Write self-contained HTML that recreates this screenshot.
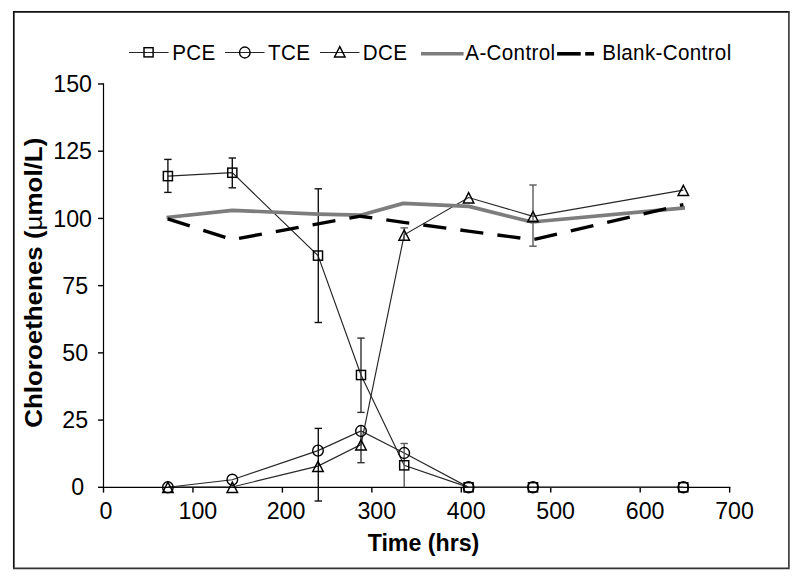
<!DOCTYPE html>
<html><head><meta charset="utf-8"><style>
html,body{margin:0;padding:0;background:#fff;}
svg{display:block;}
text{font-family:"Liberation Sans",sans-serif;fill:#000;}
.ax{font-size:23.2px;}
.lg{font-size:20.6px;letter-spacing:0.35px;}
.tt{font-size:22.5px;font-weight:bold;}
.mu{font-weight:normal;}
</style></head><body>
<svg width="800" height="582" viewBox="0 0 800 582">
<rect width="800" height="582" fill="#fff"/>
<path d="M13.8,569 V11.8 H789.4" fill="none" stroke="#111" stroke-width="1.7"/>
<path d="M13,568.4 H788.9 V11" fill="none" stroke="#333" stroke-width="1.6"/>
<line x1="103.5" y1="83.3" x2="103.5" y2="488.0" stroke="#000" stroke-width="1.2"/>
<line x1="102.8" y1="487.3" x2="730.4" y2="487.3" stroke="#000" stroke-width="1.2"/>
<line x1="98" y1="487.30" x2="103.5" y2="487.30" stroke="#000" stroke-width="1.4"/>
<line x1="98" y1="420.08" x2="103.5" y2="420.08" stroke="#000" stroke-width="1.4"/>
<line x1="98" y1="352.86" x2="103.5" y2="352.86" stroke="#000" stroke-width="1.4"/>
<line x1="98" y1="285.64" x2="103.5" y2="285.64" stroke="#000" stroke-width="1.4"/>
<line x1="98" y1="218.42" x2="103.5" y2="218.42" stroke="#000" stroke-width="1.4"/>
<line x1="98" y1="151.20" x2="103.5" y2="151.20" stroke="#000" stroke-width="1.4"/>
<line x1="98" y1="83.98" x2="103.5" y2="83.98" stroke="#000" stroke-width="1.4"/>
<line x1="103.50" y1="487.3" x2="103.50" y2="492.6" stroke="#000" stroke-width="1.4"/>
<line x1="192.95" y1="487.3" x2="192.95" y2="492.6" stroke="#000" stroke-width="1.4"/>
<line x1="282.40" y1="487.3" x2="282.40" y2="492.6" stroke="#000" stroke-width="1.4"/>
<line x1="371.85" y1="487.3" x2="371.85" y2="492.6" stroke="#000" stroke-width="1.4"/>
<line x1="461.30" y1="487.3" x2="461.30" y2="492.6" stroke="#000" stroke-width="1.4"/>
<line x1="550.75" y1="487.3" x2="550.75" y2="492.6" stroke="#000" stroke-width="1.4"/>
<line x1="640.20" y1="487.3" x2="640.20" y2="492.6" stroke="#000" stroke-width="1.4"/>
<line x1="729.65" y1="487.3" x2="729.65" y2="492.6" stroke="#000" stroke-width="1.4"/>
<text transform="translate(84.20,495.40) scale(1,1.02)" text-anchor="end" class="ax">0</text>
<text transform="translate(88.10,428.18) scale(1,1.02)" text-anchor="end" class="ax">25</text>
<text transform="translate(88.10,360.96) scale(1,1.02)" text-anchor="end" class="ax">50</text>
<text transform="translate(88.10,293.74) scale(1,1.02)" text-anchor="end" class="ax">75</text>
<text transform="translate(92.00,226.52) scale(1,1.02)" text-anchor="end" class="ax">100</text>
<text transform="translate(92.00,159.30) scale(1,1.02)" text-anchor="end" class="ax">125</text>
<text transform="translate(92.00,92.08) scale(1,1.02)" text-anchor="end" class="ax">150</text>
<text transform="translate(106.00,518.5) scale(1,1.02)" text-anchor="middle" class="ax">0</text>
<text transform="translate(197.85,518.5) scale(1,1.02)" text-anchor="middle" class="ax">100</text>
<text transform="translate(286.00,518.5) scale(1,1.02)" text-anchor="middle" class="ax">200</text>
<text transform="translate(376.75,518.5) scale(1,1.02)" text-anchor="middle" class="ax">300</text>
<text transform="translate(466.20,518.5) scale(1,1.02)" text-anchor="middle" class="ax">400</text>
<text transform="translate(555.65,518.5) scale(1,1.02)" text-anchor="middle" class="ax">500</text>
<text transform="translate(645.10,518.5) scale(1,1.02)" text-anchor="middle" class="ax">600</text>
<text transform="translate(734.55,518.5) scale(1,1.02)" text-anchor="middle" class="ax">700</text>
<text transform="translate(423.5,551.3) scale(1,1.046)" text-anchor="middle" class="tt" style="font-size:23.2px">Time (hrs)</text>
<text transform="translate(42.2,282.75) rotate(-90) scale(1.128,1)" text-anchor="middle" class="tt" style="font-size:23px">Chloroethenes (<tspan class="mu">µ</tspan>mol/L)</text>
<polyline points="167.9,176.1 232.3,172.7 318.0,255.6 361.0,375.0 404.2,465.3 468.6,487.3 533.0,487.3 683.3,487.3" fill="none" stroke="#262626" stroke-width="1.15"/>
<polyline points="167.9,487.3 232.3,479.7 318.0,450.6 361.0,431.0 404.2,453.0 468.6,487.3 533.0,487.3 683.3,487.3" fill="none" stroke="#262626" stroke-width="1.15"/>
<polyline points="167.9,487.0 232.3,487.0 318.0,466.1 361.0,444.6 404.2,234.8 468.6,197.5 533.0,216.3 683.3,190.1" fill="none" stroke="#262626" stroke-width="1.15"/>
<line x1="167.9" y1="159.4" x2="167.9" y2="192.4" stroke="#111" stroke-width="1.4"/>
<line x1="164.20" y1="159.4" x2="171.60" y2="159.4" stroke="#111" stroke-width="1.4"/>
<line x1="164.20" y1="192.4" x2="171.60" y2="192.4" stroke="#111" stroke-width="1.4"/>
<line x1="232.3" y1="158" x2="232.3" y2="187.8" stroke="#111" stroke-width="1.4"/>
<line x1="228.60" y1="158" x2="236.00" y2="158" stroke="#111" stroke-width="1.4"/>
<line x1="228.60" y1="187.8" x2="236.00" y2="187.8" stroke="#111" stroke-width="1.4"/>
<line x1="318.3" y1="188.8" x2="318.3" y2="322.5" stroke="#111" stroke-width="1.4"/>
<line x1="314.60" y1="188.8" x2="322.00" y2="188.8" stroke="#111" stroke-width="1.4"/>
<line x1="314.60" y1="322.5" x2="322.00" y2="322.5" stroke="#111" stroke-width="1.4"/>
<line x1="361" y1="338.1" x2="361" y2="412.4" stroke="#333" stroke-width="1.4"/>
<line x1="357.30" y1="338.1" x2="364.70" y2="338.1" stroke="#333" stroke-width="1.4"/>
<line x1="357.30" y1="412.4" x2="364.70" y2="412.4" stroke="#333" stroke-width="1.4"/>
<line x1="318.3" y1="428.4" x2="318.3" y2="501" stroke="#111" stroke-width="1.4"/>
<line x1="314.60" y1="428.4" x2="322.00" y2="428.4" stroke="#111" stroke-width="1.4"/>
<line x1="314.60" y1="501" x2="322.00" y2="501" stroke="#111" stroke-width="1.4"/>
<line x1="361" y1="425.8" x2="361" y2="462.7" stroke="#333" stroke-width="1.4"/>
<line x1="357.30" y1="462.7" x2="364.70" y2="462.7" stroke="#333" stroke-width="1.4"/>
<line x1="404.2" y1="443.5" x2="404.2" y2="487.3" stroke="#5a5a5a" stroke-width="1.4"/>
<line x1="400.50" y1="443.5" x2="407.90" y2="443.5" stroke="#5a5a5a" stroke-width="1.4"/>
<line x1="404.2" y1="227.9" x2="404.2" y2="240" stroke="#5a5a5a" stroke-width="1.4"/>
<line x1="400.50" y1="227.9" x2="407.90" y2="227.9" stroke="#5a5a5a" stroke-width="1.4"/>
<line x1="533" y1="185" x2="533" y2="246.2" stroke="#5a5a5a" stroke-width="1.4"/>
<line x1="529.30" y1="185" x2="536.70" y2="185" stroke="#5a5a5a" stroke-width="1.4"/>
<line x1="529.30" y1="246.2" x2="536.70" y2="246.2" stroke="#5a5a5a" stroke-width="1.4"/>
<polyline points="166.5,217.5 232.3,210.3 318.0,214.1 360.5,215.2 403.3,203.4 469.0,206.4 532.0,222.0 685.0,207.8" fill="none" stroke="#7d7d7d" stroke-width="3.7" stroke-linejoin="round"/>
<polyline points="167.0,218.7 232.3,239.6 318.0,223.8 360.5,216.2 403.5,222.4 468.3,231.1 533.0,239.7 683.4,204.6" fill="none" stroke="#000" stroke-width="3.4" stroke-dasharray="23.2 14.17" stroke-dashoffset="-0.7"/>
<path d="M167.90,482.20 L173.15,492.40 L162.65,492.40 Z" fill="none" stroke="#000" stroke-width="1.45" stroke-linejoin="miter"/>
<path d="M232.30,482.20 L237.55,492.40 L227.05,492.40 Z" fill="none" stroke="#000" stroke-width="1.45" stroke-linejoin="miter"/>
<path d="M318.00,461.30 L323.25,471.50 L312.75,471.50 Z" fill="none" stroke="#000" stroke-width="1.45" stroke-linejoin="miter"/>
<path d="M361.00,439.80 L366.25,450.00 L355.75,450.00 Z" fill="none" stroke="#000" stroke-width="1.45" stroke-linejoin="miter"/>
<path d="M404.20,230.00 L409.45,240.20 L398.95,240.20 Z" fill="none" stroke="#000" stroke-width="1.45" stroke-linejoin="miter"/>
<path d="M468.60,192.70 L473.85,202.90 L463.35,202.90 Z" fill="none" stroke="#000" stroke-width="1.45" stroke-linejoin="miter"/>
<path d="M533.00,211.50 L538.25,221.70 L527.75,221.70 Z" fill="none" stroke="#000" stroke-width="1.45" stroke-linejoin="miter"/>
<path d="M683.30,185.30 L688.55,195.50 L678.05,195.50 Z" fill="none" stroke="#000" stroke-width="1.45" stroke-linejoin="miter"/>
<ellipse cx="167.90" cy="487.30" rx="5.3" ry="5.50" fill="none" stroke="#000" stroke-width="1.4"/>
<ellipse cx="232.30" cy="479.70" rx="5.3" ry="5.50" fill="none" stroke="#000" stroke-width="1.4"/>
<ellipse cx="318.00" cy="450.60" rx="5.3" ry="5.50" fill="none" stroke="#000" stroke-width="1.4"/>
<ellipse cx="361.00" cy="431.00" rx="5.3" ry="5.50" fill="none" stroke="#000" stroke-width="1.4"/>
<ellipse cx="404.20" cy="453.00" rx="5.3" ry="5.50" fill="none" stroke="#000" stroke-width="1.4"/>
<ellipse cx="468.60" cy="487.30" rx="5.3" ry="5.50" fill="none" stroke="#000" stroke-width="1.4"/>
<ellipse cx="533.00" cy="487.30" rx="5.3" ry="5.50" fill="none" stroke="#000" stroke-width="1.4"/>
<ellipse cx="683.30" cy="487.30" rx="5.3" ry="5.50" fill="none" stroke="#000" stroke-width="1.4"/>
<rect x="163.35" y="171.50" width="9.1" height="9.2" fill="none" stroke="#000" stroke-width="1.45"/>
<rect x="227.75" y="168.10" width="9.1" height="9.2" fill="none" stroke="#000" stroke-width="1.45"/>
<rect x="313.45" y="251.00" width="9.1" height="9.2" fill="none" stroke="#000" stroke-width="1.45"/>
<rect x="356.45" y="370.40" width="9.1" height="9.2" fill="none" stroke="#000" stroke-width="1.45"/>
<rect x="399.65" y="460.70" width="9.1" height="9.2" fill="none" stroke="#000" stroke-width="1.45"/>
<rect x="464.05" y="482.70" width="9.1" height="9.2" fill="none" stroke="#000" stroke-width="1.45"/>
<rect x="528.45" y="482.70" width="9.1" height="9.2" fill="none" stroke="#000" stroke-width="1.45"/>
<rect x="678.75" y="482.70" width="9.1" height="9.2" fill="none" stroke="#000" stroke-width="1.45"/>
<line x1="129" y1="52.5" x2="168.5" y2="52.5" stroke="#262626" stroke-width="1.15"/>
<rect x="144.00" y="47.70" width="9.1" height="9.2" fill="none" stroke="#000" stroke-width="1.45"/>
<text transform="translate(172.2,60) scale(1,1.10)" class="lg">PCE</text>
<line x1="225" y1="52.5" x2="264.5" y2="52.5" stroke="#262626" stroke-width="1.15"/>
<ellipse cx="244.80" cy="52.50" rx="5.3" ry="5.50" fill="none" stroke="#000" stroke-width="1.4"/>
<text transform="translate(268,60) scale(1,1.10)" class="lg">TCE</text>
<line x1="320" y1="52.5" x2="359.5" y2="52.5" stroke="#262626" stroke-width="1.15"/>
<path d="M339.80,46.70 L345.05,56.90 L334.55,56.90 Z" fill="none" stroke="#000" stroke-width="1.45" stroke-linejoin="miter"/>
<text transform="translate(362.7,60) scale(1,1.10)" class="lg">DCE</text>
<line x1="421" y1="53.8" x2="463.6" y2="53.8" stroke="#7d7d7d" stroke-width="3.6"/>
<text transform="translate(465.3,60) scale(1,1.10)" class="lg">A-Control</text>
<line x1="557.1" y1="53.8" x2="580.7" y2="53.8" stroke="#000" stroke-width="3.6"/>
<line x1="585.2" y1="53.8" x2="594.1" y2="53.8" stroke="#000" stroke-width="3.6"/>
<text transform="translate(602.3,60) scale(1,1.10)" class="lg">Blank-Control</text>
</svg>
</body></html>
